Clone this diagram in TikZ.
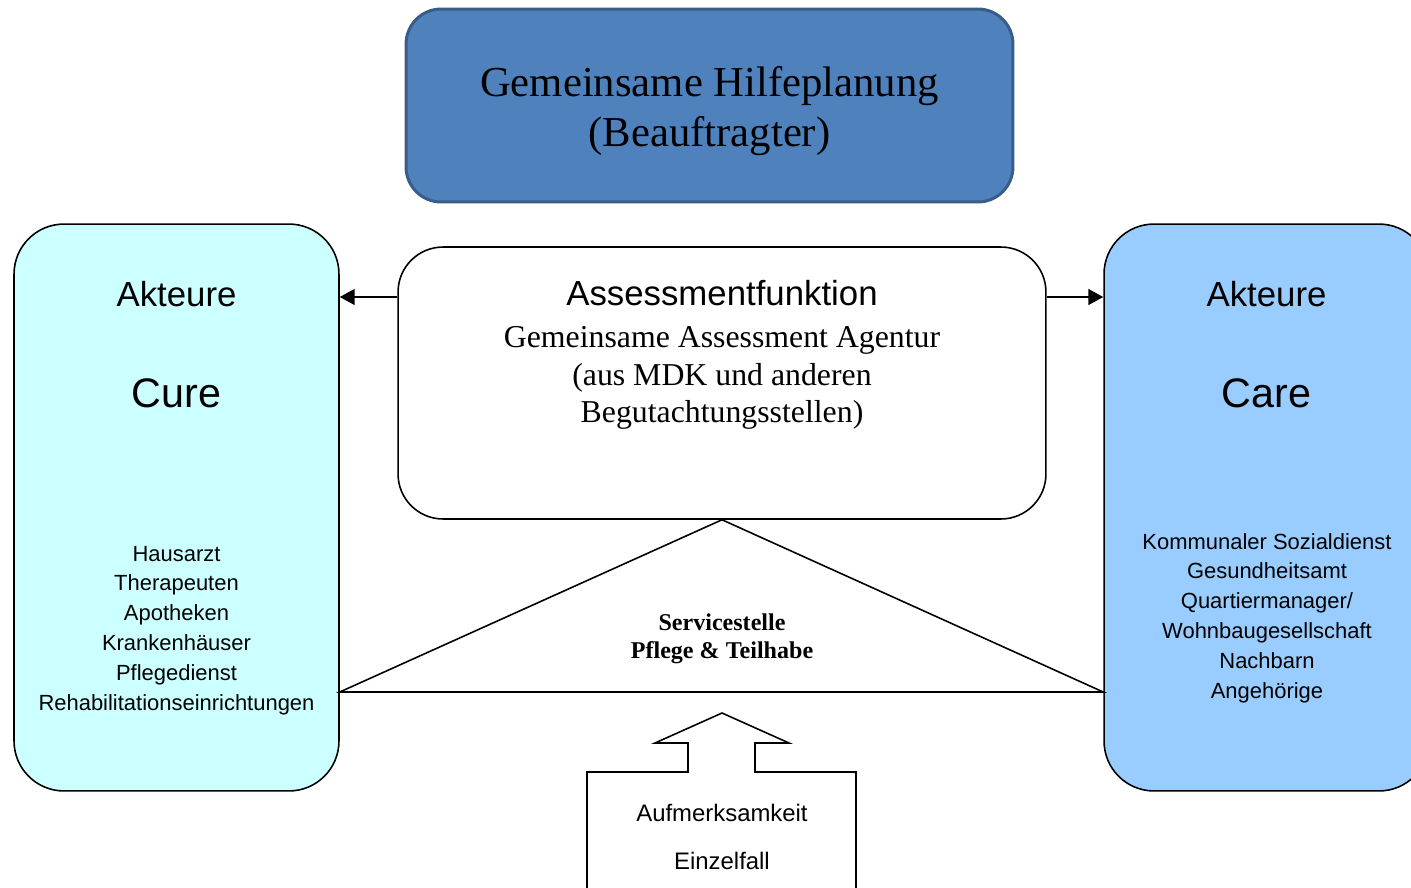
\documentclass[tikz,border=0pt]{standalone}
\usepackage{fontspec}
\setmainfont{Liberation Serif}
\setsansfont{Liberation Sans}
\usetikzlibrary{arrows.meta}
\definecolor{planBlue}{HTML}{4F81BD}
\definecolor{planEdge}{HTML}{385D8A}
\definecolor{cureFill}{HTML}{CCFFFF}
\definecolor{careFill}{HTML}{99CCFF}

\begin{document}
\begin{tikzpicture}[x=0.02cm, y=-0.02cm,
    box/.style={draw, line width=0.9pt, inner sep=0pt},
    arr/.style={-{Triangle[length=8.5pt, width=9pt]}, line width=1.1pt},
    head/.style={font=\sffamily\fontsize{19.8}{23}\selectfont},
    big/.style={font=\sffamily\fontsize{23.5}{28}\selectfont},
    lst/.style={font=\sffamily\fontsize{12.5}{17}\selectfont, align=center},
]
\useasboundingbox (0,0) rectangle (1411,887);
\clip (0,0) rectangle (1411,887);

% === Top: joint planning ===
\node[box, fill=planBlue, draw=planEdge, line width=1.7pt, rounded corners=0.7cm,
    minimum width=12.14cm, minimum height=3.86cm] (plan) at (709.5, 105.5) {};
\node[font=\fontsize{24.3}{28.9}\selectfont, align=center] (planText) at (709.5, 111)
    {Gemeinsame Hilfeplanung\\(Beauftragter)};

% === Side panels ===
\node[box, fill=cureFill, rounded corners=1cm,
    minimum width=6.5cm, minimum height=11.34cm] (cure) at (176.5, 507.5) {};
\node[box, fill=careFill, rounded corners=1cm,
    minimum width=6.5cm, minimum height=11.34cm] (care) at (1266.5, 507.5) {};

% === Assessment box ===
\node[box, fill=white, rounded corners=0.9cm,
    minimum width=12.96cm, minimum height=5.44cm] (assess) at (722, 383) {};

% Texts, left panel
\node[head] (cureHead) at (176.5, 294) {Akteure};
\node[big] (cureName) at (176.5, 393) {Cure};
\node[lst] (cureList) at (176.5, 630.5)
    {Hausarzt\\Therapeuten\\Apotheken\\Krankenhäuser\\Pflegedienst\\Rehabilitationseinrichtungen};

% Texts, right panel
\node[head] (careHead) at (1266.5, 294) {Akteure};
\node[big] (careName) at (1266.5, 393) {Care};
\node[lst] (careList) at (1267, 618)
    {Kommunaler Sozialdienst\\Gesundheitsamt\\Quartiermanager/\\Wohnbaugesellschaft\\Nachbarn\\Angehörige};

% Texts, assessment
\node[head] (assessHead) at (722, 293) {Assessmentfunktion};
\node[font=\fontsize{18.1}{21.5}\selectfont, align=center] (assessText) at (722, 378)
    {Gemeinsame Assessment Agentur\\(aus MDK und anderen\\Begutachtungsstellen)};

% Arrows to the panels
\draw[arr] (assess.west |- 0,297) -- (cure.east |- 0,297);
\draw[arr] (assess.east |- 0,297) -- (care.west |- 0,297);

% === Service triangle ===
\draw[line width=0.9pt] (cure.east |- 0,692) -- (assess.south) -- (care.west |- 0,692) -- cycle;
\node[font=\bfseries\fontsize{13.7}{15.9}\selectfont, align=center] (service) at (722, 639)
    {Servicestelle\\Pflege \& Teilhabe};

% === Bottom block arrow ===
\draw[line width=0.9pt] (587,900) -- (587,772) -- (688,772) -- (688,743) -- (655,743)
    -- (722,713) -- (789,743) -- (755,743) -- (755,772) -- (856,772) -- (856,900);
\node[font=\sffamily\fontsize{13.6}{16}\selectfont] (attention) at (722, 813) {Aufmerksamkeit};
\node[font=\sffamily\fontsize{13.6}{16}\selectfont] (single) at (722, 861) {Einzelfall};

\end{tikzpicture}
\end{document}
